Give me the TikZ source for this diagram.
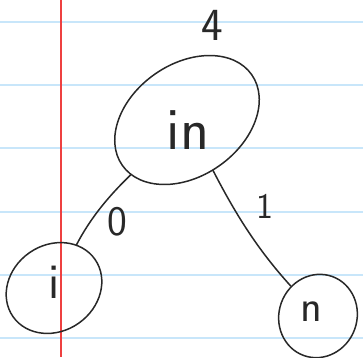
\documentclass[tikz,border=0pt]{standalone}
\usetikzlibrary{shapes.geometric}
\definecolor{ruleblue}{RGB}{200,230,250}
\definecolor{marginred}{RGB}{238,64,64}
\definecolor{pen}{RGB}{40,40,40}
\tikzset{
  pencil/.style={draw=pen, line width=1.5pt, line cap=round},
  blob/.style={pencil, ellipse, inner sep=0pt},
  hand/.style={text=pen, inner sep=0pt, font=\sffamily},
}
\begin{document}
\begin{tikzpicture}[x=1pt,y=-1pt]
\useasboundingbox (0,0) rectangle (363,357);
\fill[white] (0,0) rectangle (363,357);
% lined paper
\foreach \yy in {22,85,148,212,275,338}
  \draw[ruleblue, line width=2pt] (0,\yy) -- (363,\yy);
\draw[marginred, line width=2pt] (61,0) -- (61,357);
% nodes
\node[blob, minimum width=158pt, minimum height=112pt, rotate=35] (root) at (187,120) {};
\node[blob, minimum width=100pt, minimum height=86pt, rotate=35] (left) at (54,288) {};
\node[blob, minimum width=84pt, minimum height=78pt, rotate=70] (right) at (318,316) {};
% texts
\node[hand, anchor=base, font=\sffamily\fontsize{60}{60}\selectfont] (rootlbl) at (188,149) {in};
\node[hand, anchor=base, font=\sffamily\fontsize{46}{46}\selectfont] (weight) at (212,40) {4};
\node[hand, anchor=base, font=\sffamily\fontsize{50}{50}\selectfont] (leftlbl) at (54,298) {i};
\node[hand, anchor=base, font=\sffamily\fontsize{45}{45}\selectfont] (rightlbl) at (311,321) {n};
% edges
\draw[pencil] (root) .. controls (112,193) and (92,215) .. (left);
\draw[pencil] (root) .. controls (236,215) and (258,250) .. (right);
\node[hand, anchor=base, font=\sffamily\fontsize{42}{42}\selectfont] (zero) at (117,235) {0};
\node[hand, anchor=base, font=\sffamily\fontsize{36}{36}\selectfont] (one) at (265,218) {1};
\end{tikzpicture}
\end{document}
